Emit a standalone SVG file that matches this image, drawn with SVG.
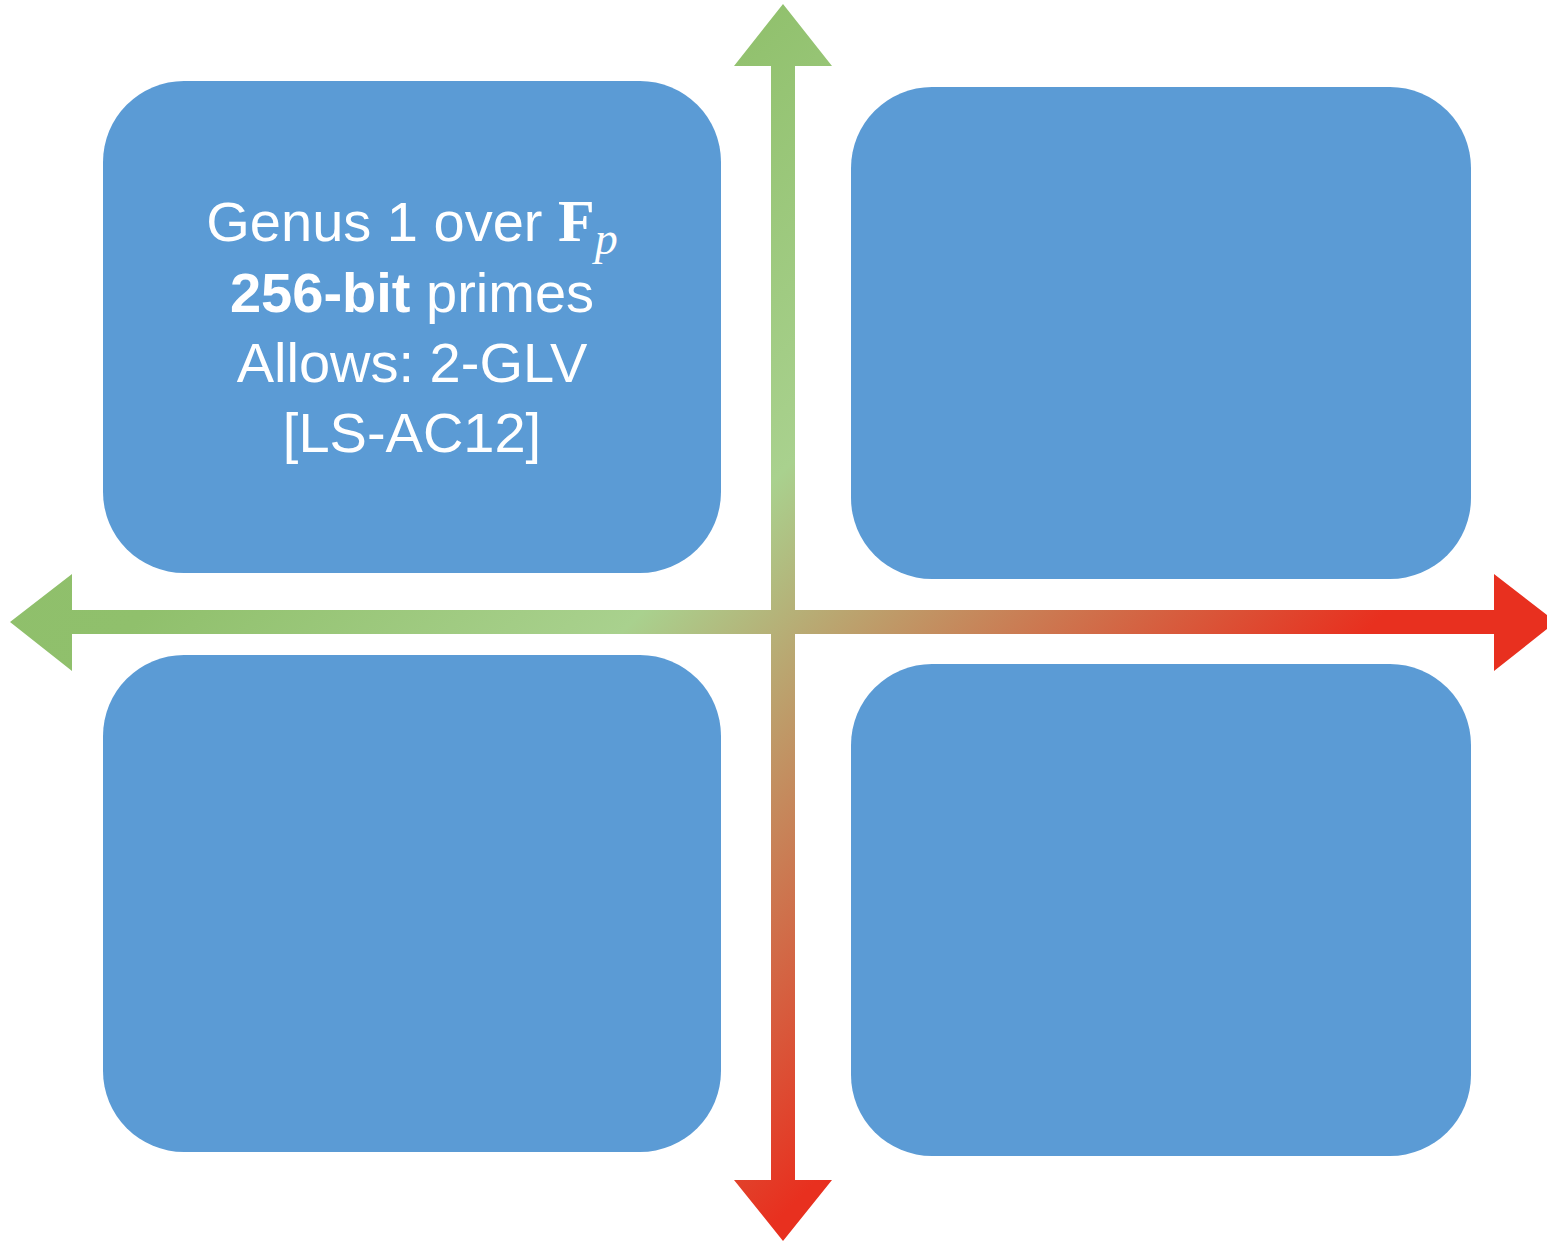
<svg xmlns="http://www.w3.org/2000/svg" width="1547" height="1242" viewBox="0 0 1547 1242">
  <defs>
    <linearGradient id="crossGrad" gradientUnits="userSpaceOnUse" x1="10" y1="4" x2="1250" y2="1244">
      <stop offset="0" stop-color="#8cbd68"/>
      <stop offset="0.3" stop-color="#90c06c"/>
      <stop offset="0.5" stop-color="#a9d18e"/>
      <stop offset="0.8" stop-color="#e8301f"/>
      <stop offset="1" stop-color="#e8301f"/>
    </linearGradient>
    <style>
      .box { fill: #5b9bd5; }
      .lbl { fill: #ffffff; font-family: "Liberation Sans", "DejaVu Sans", sans-serif; font-size: 56px; text-anchor: middle; }
      .math { font-family: "Liberation Serif", "DejaVu Serif", serif; }
    </style>
  </defs>
  <rect width="1547" height="1242" fill="#ffffff"/>
  <g id="connectors">
    <path fill="url(#crossGrad)" d="M783,4 L832,66 L795,66 L795,610 L1494,610 L1494,574 L1556,622 L1494,671 L1494,634 L795,634 L795,1180 L832,1180 L783,1241 L734,1180 L771,1180 L771,634 L72,634 L72,671 L10,622 L72,574 L72,610 L771,610 L771,66 L734,66 Z"/>
  </g>
  <g id="node-tl">
    <rect class="box" x="103" y="81" width="618" height="492" rx="81" ry="81"/>
    <text class="lbl" x="412" y="241">Genus 1 over <tspan class="math" font-weight="bold" font-size="60">F</tspan><tspan class="math" font-style="italic" font-size="46" dy="13">p</tspan></text>
    <text class="lbl" x="412" y="312"><tspan font-weight="bold">256-bit</tspan> primes</text>
    <text class="lbl" x="412" y="382">Allows: 2-GLV</text>
    <text class="lbl" x="412" y="452">[LS-AC12]</text>
  </g>
  <g id="node-tr">
    <rect class="box" x="851" y="87" width="620" height="492" rx="81" ry="81"/>
  </g>
  <g id="node-bl">
    <rect class="box" x="103" y="655" width="618" height="497" rx="81" ry="81"/>
  </g>
  <g id="node-br">
    <rect class="box" x="851" y="664" width="620" height="492" rx="81" ry="81"/>
  </g>
</svg>
